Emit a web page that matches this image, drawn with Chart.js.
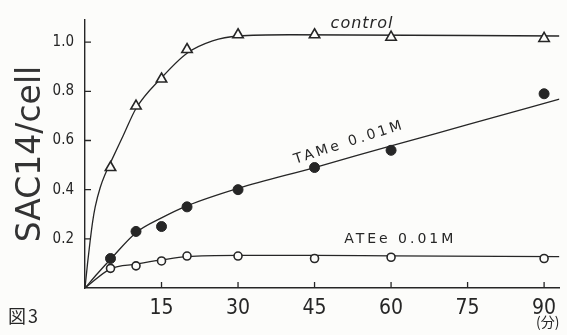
<!DOCTYPE html>
<html>
<head>
<meta charset="utf-8">
<script src="https://cdn.jsdelivr.net/npm/chart.js@4.4.1/dist/chart.umd.min.js"></script>
<style>
  html, body { margin: 0; padding: 0; background: #fcfcfa; }
  #wrap { width: 567px; height: 335px; }
</style>
</head>
<body>
<div id="wrap"><canvas id="c" width="567" height="335"></canvas></div>
<script>
// ---- data ----
const times = [5, 10, 15, 20, 30, 45, 60, 90];
const controlVals = [0.49, 0.74, 0.85, 0.97, 1.03, 1.03, 1.02, 1.015];
const tameVals    = [0.12, 0.23, 0.25, 0.33, 0.40, 0.49, 0.56, 0.79];
const ateeVals    = [0.08, 0.09, 0.11, 0.13, 0.13, 0.12, 0.125, 0.12];

// hand-drawn fitted curves
const controlCurveX = [0, 0.5, 1, 1.5, 2, 3, 4, 5, 7.5, 10, 15, 20, 25, 30, 40, 93];
const controlCurveY = [0, 0.10, 0.19, 0.27, 0.33, 0.41, 0.465, 0.51, 0.62, 0.73, 0.855, 0.955, 1.005, 1.025, 1.03, 1.025];
const tameCurveX = [0, 2.5, 5, 10, 15, 20, 30, 45, 60, 75, 93];
const tameCurveY = [0, 0.06, 0.117, 0.225, 0.285, 0.334, 0.405, 0.49, 0.578, 0.664, 0.768];
const ateeCurveX = [0, 5, 10, 15, 20, 30, 45, 60, 93];
const ateeCurveY = [0, 0.078, 0.097, 0.114, 0.128, 0.133, 0.133, 0.131, 0.128];

const xTickValues = [15, 30, 45, 60, 75, 90];
const yTickValues = [0.2, 0.4, 0.6, 0.8, 1.0];
const seriesLabels = ['control', 'TAMe 0.01M', 'ATEe 0.01M'];
const yTitle = 'SAC14/cell';
const xUnit = '(分)';
const figLabel = '図3';

// ---- build ----
const pts = (xs, ys) => xs.map((x, i) => ({ x: x, y: ys[i] }));
const INK = '#262626';
const handFont = "'Liberation Sans Narrow', 'DejaVu Sans Condensed', 'DejaVu Sans', sans-serif";

const sketchPlugin = {
  id: 'sketch',
  beforeDraw(chart) {
    const ctx = chart.ctx;
    ctx.save();
    ctx.fillStyle = '#fcfcfa';
    ctx.fillRect(0, 0, chart.width, chart.height);
    ctx.restore();
  },
  afterDraw(chart) {
    const { ctx, scales: { x, y } } = chart;
    ctx.save();
    ctx.strokeStyle = INK;
    ctx.lineWidth = 1.3;
    ctx.beginPath();
    xTickValues.forEach(v => {
      const px = x.getPixelForValue(v);
      ctx.moveTo(px, y.bottom);
      ctx.lineTo(px, y.bottom - 6);
    });
    yTickValues.forEach(v => {
      const py = y.getPixelForValue(v);
      ctx.moveTo(x.left, py);
      ctx.lineTo(x.left + 6, py);
    });
    ctx.stroke();

    ctx.fillStyle = INK;
    ctx.textAlign = 'center';
    ctx.textBaseline = 'middle';
    // control label
    ctx.font = "italic 16px 'DejaVu Sans', sans-serif";
    ctx.letterSpacing = '1px';
    ctx.fillText(seriesLabels[0], x.getPixelForValue(54.3), y.getPixelForValue(1.075));
    // TAMe label (rotated along the line)
    ctx.font = "14px 'DejaVu Sans', sans-serif";
    ctx.letterSpacing = '3px';
    ctx.save();
    ctx.translate(x.getPixelForValue(51.8), y.getPixelForValue(0.592));
    ctx.rotate(-18 * Math.PI / 180);
    ctx.fillText(seriesLabels[1], 0, 0);
    ctx.restore();
    // ATEe label
    ctx.fillText(seriesLabels[2], x.getPixelForValue(61.8), y.getPixelForValue(0.197));
    // figure label
    ctx.letterSpacing = '2px';
    ctx.textAlign = 'left';
    ctx.font = "18px 'Noto Sans CJK JP', sans-serif";
    ctx.fillText(figLabel, 8, 316);
    ctx.restore();
  }
};

const lineStyle = {
  type: 'line',
  showLine: true,
  borderColor: INK,
  borderWidth: 1.3,
  pointRadius: 0,
  fill: false,
  cubicInterpolationMode: 'monotone',
  order: 2
};

new Chart(document.getElementById('c'), {
  type: 'scatter',
  data: {
    datasets: [
      Object.assign({ label: 'control curve', data: pts(controlCurveX, controlCurveY) }, lineStyle),
      Object.assign({ label: 'TAMe curve', data: pts(tameCurveX, tameCurveY) }, lineStyle),
      Object.assign({ label: 'ATEe curve', data: pts(ateeCurveX, ateeCurveY) }, lineStyle),
      {
        label: seriesLabels[0], data: pts(times, controlVals),
        pointStyle: 'triangle', pointRadius: 6, pointBorderWidth: 1.6,
        pointBackgroundColor: '#fcfcfa', pointBorderColor: INK, order: 0
      },
      {
        label: seriesLabels[1], data: pts(times, tameVals),
        pointStyle: 'circle', pointRadius: 5, pointBorderWidth: 1,
        pointBackgroundColor: INK, pointBorderColor: INK, order: 0
      },
      {
        label: seriesLabels[2], data: pts(times, ateeVals),
        pointStyle: 'circle', pointRadius: 4, pointBorderWidth: 1.6,
        pointBackgroundColor: '#fcfcfa', pointBorderColor: INK, order: 0
      }
    ]
  },
  options: {
    responsive: false,
    animation: false,
    events: [],
    layout: { padding: { top: 12, right: 6, left: 0, bottom: 0 } },
    plugins: { legend: { display: false }, tooltip: { enabled: false } },
    scales: {
      x: {
        type: 'linear', min: 0, max: 93,
        afterFit(s) { s.height = 47; },
        afterBuildTicks(s) { s.ticks = xTickValues.map(v => ({ value: v })); },
        grid: { display: false, drawTicks: false },
        border: { display: true, color: INK, width: 1.4 },
        ticks: {
          autoSkip: false, maxRotation: 0, padding: 8,
          color: INK,
          font: { family: handFont, size: 21 },
          callback: v => String(v)
        },
        title: {
          display: true, text: xUnit, align: 'end', color: INK,
          font: { family: "'Noto Sans CJK JP', sans-serif", size: 14 },
          padding: { top: 0, bottom: 5 }
        }
      },
      y: {
        type: 'linear', min: 0, max: 1.09,
        afterFit(s) { s.width = 85; },
        afterBuildTicks(s) { s.ticks = yTickValues.map(v => ({ value: v })); },
        grid: { display: false, drawTicks: false },
        border: { display: true, color: INK, width: 1.4 },
        ticks: {
          autoSkip: false, padding: 11,
          color: INK,
          font: { family: handFont, size: 15 },
          callback: v => Number(v).toFixed(1)
        },
        title: {
          display: true, text: yTitle, color: '#333',
          font: { family: "'DejaVu Sans', sans-serif", size: 33 },
          padding: { top: 12, bottom: 0 }
        }
      }
    }
  },
  plugins: [sketchPlugin]
});
</script>
</body>
</html>
